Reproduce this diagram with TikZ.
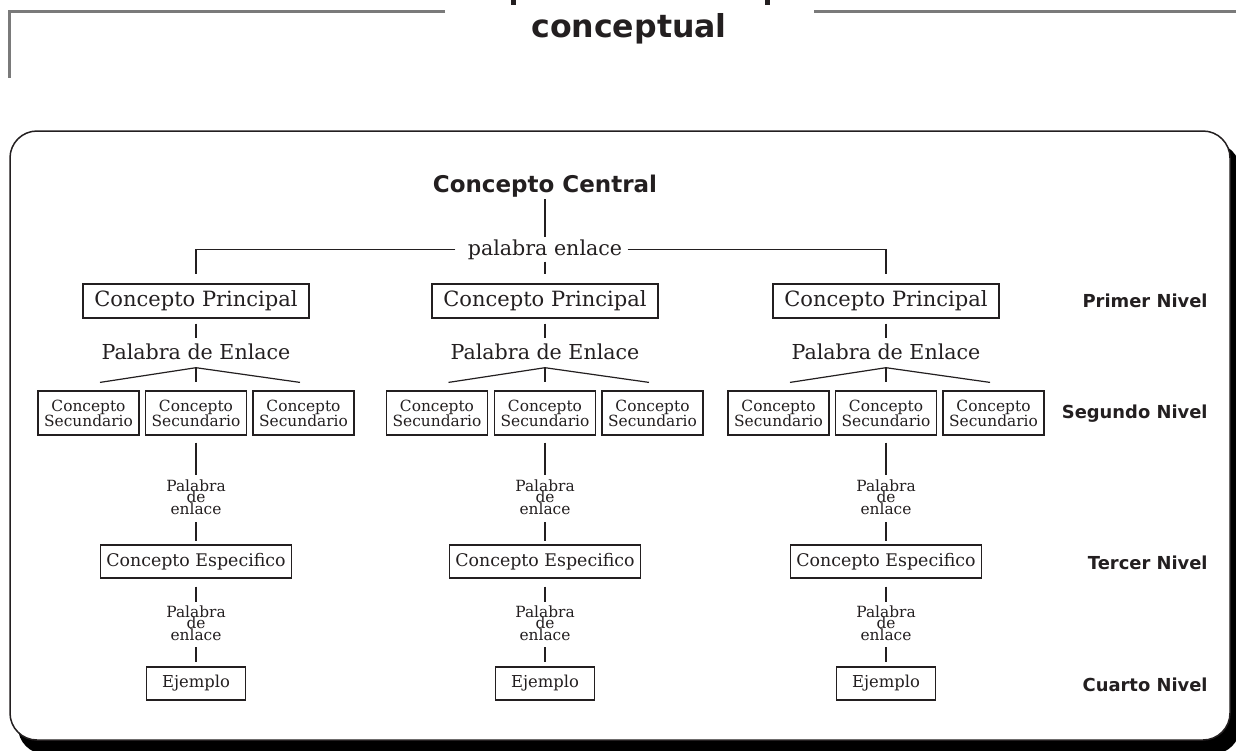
\documentclass[tikz,border=0pt]{standalone}
\usepackage{fontspec}
\setmainfont{DejaVu Serif}
\newfontfamily\nivelfont{DejaVu Sans}
\usepackage{xcolor}
\usetikzlibrary{positioning,calc}
\definecolor{ink}{HTML}{231F20}
\definecolor{framegray}{HTML}{7A7A7A}

\tikzset{
    concept/.style={draw=ink, line width=0.6pt, inner sep=0pt, text=ink,
        font=\fontsize{10.5}{12}\selectfont, minimum width=113pt, minimum height=17pt},
    secbox/.style={concept, align=center, font=\fontsize{7.7}{7.5}\selectfont,
        execute at begin node={\lineskiplimit=-3pt},
        minimum width=50.5pt, minimum height=22pt},
    espbox/.style={concept, font=\fontsize{8.7}{10}\selectfont, minimum width=95.5pt, minimum height=16.5pt},
    ejbox/.style={concept, font=\fontsize{8.2}{10}\selectfont, minimum width=49.5pt, minimum height=16.5pt},
    linkword/.style={inner sep=1pt, text=ink, anchor=base, font=\fontsize{10.3}{12}\selectfont},
    smalllink/.style={inner sep=1pt, text=ink, align=center, anchor=north,
        execute at begin node={\lineskiplimit=-3pt},
        font=\fontsize{7.7}{5.9}\selectfont},
    nivel/.style={inner sep=0pt, text=ink, anchor=base east, font=\nivelfont\bfseries\fontsize{8.95}{10}\selectfont},
    conn/.style={draw=ink, line width=0.6pt},
}

\begin{document}
\begin{tikzpicture}[x=0.5pt, y=-0.5pt]
    \useasboundingbox (0,0) rectangle (1236,750);

    % Title frame (cut at the top)
    \fill[ink] (511,0) rectangle (516,5);
    \fill[ink] (765,0) rectangle (770,5);
    \draw[framegray, line width=1.5pt] (445,11) -- (9,11) -- (9,78);
    \draw[framegray, line width=1.5pt] (814,11) -- (1236,11);
    \node[inner sep=0pt, anchor=base, text=ink, font=\nivelfont\bfseries\fontsize{15.8}{18}\selectfont] (titulo) at (629,37) {conceptual};

    % Panel with shadow
    \fill[black, rounded corners=13.5pt] (18,143) rectangle (1240,754);
    \filldraw[fill=white, draw=ink, line width=0.75pt, rounded corners=13.5pt] (10,131) rectangle (1230,740);

    % Central concept
    \node[inner sep=1pt, anchor=base, text=ink, font=\nivelfont\bfseries\fontsize{11.5}{14}\selectfont] (cc) at (545,192) {Concepto Central};
    \node[linkword, inner xsep=2.5pt] (pe) at (545,255) {palabra enlace};
    \draw[conn] (cc) -- (pe);

    % Primer Nivel
    \node[concept] (cp1) at (196,301) {Concepto Principal};
    \node[concept] (cp2) at (545,301) {Concepto Principal};
    \node[concept] (cp3) at (886,301) {Concepto Principal};
    \draw[conn, shorten <=3.5pt, shorten >=4.5pt] (pe) -| (cp1);
    \draw[conn, shorten >=4.5pt] (pe) -- (cp2);
    \draw[conn, shorten >=4.5pt] (pe) -| (cp3);

    \node[linkword] (pl1) at (196,359) {Palabra de Enlace};
    \node[linkword] (pl2) at (545,359) {Palabra de Enlace};
    \node[linkword] (pl3) at (886,359) {Palabra de Enlace};
    \draw[conn, shorten <=2.5pt, shorten >=1.5pt] (cp1) -- (pl1);
    \draw[conn, shorten <=2.5pt, shorten >=1.5pt] (cp2) -- (pl2);
    \draw[conn, shorten <=2.5pt, shorten >=1.5pt] (cp3) -- (pl3);

    % Segundo Nivel
    \node[secbox] (s11) at (88.5,413) {Concepto\\Secundario};
    \node[secbox] (s12) at (196,413) {Concepto\\Secundario};
    \node[secbox] (s13) at (303.5,413) {Concepto\\Secundario};
    \node[secbox] (s21) at (437,413) {Concepto\\Secundario};
    \node[secbox] (s22) at (545,413) {Concepto\\Secundario};
    \node[secbox] (s23) at (652.5,413) {Concepto\\Secundario};
    \node[secbox] (s31) at (778.5,413) {Concepto\\Secundario};
    \node[secbox] (s32) at (886,413) {Concepto\\Secundario};
    \node[secbox] (s33) at (993.5,413) {Concepto\\Secundario};

    % branches under each Palabra de Enlace
    \coordinate (t1) at ($(pl1.south)+(0,6)$);
    \coordinate (t2) at ($(pl2.south)+(0,6)$);
    \coordinate (t3) at ($(pl3.south)+(0,6)$);
    \draw[conn, shorten >=4pt] (t1) -- (s12);
    \draw[conn, shorten >=4pt] (t2) -- (s22);
    \draw[conn, shorten >=4pt] (t3) -- (s32);
    \draw[conn] ($(s11.north)+(11.5,-8)$) -- (t1) -- ($(s13.north)+(-3.5,-8)$);
    \draw[conn] ($(s21.north)+(11.5,-8)$) -- (t2) -- ($(s23.north)+(-3.5,-8)$);
    \draw[conn] ($(s31.north)+(11.5,-8)$) -- (t3) -- ($(s33.north)+(-3.5,-8)$);

    % Tercer Nivel
    \node[smalllink] (a1) at (196,477) {Palabra\\de\\enlace};
    \node[smalllink] (a2) at (545,477) {Palabra\\de\\enlace};
    \node[smalllink] (a3) at (886,477) {Palabra\\de\\enlace};
    \draw[conn, shorten <=3.5pt, shorten >=1pt] (s12) -- (a1);
    \draw[conn, shorten <=3.5pt, shorten >=1pt] (s22) -- (a2);
    \draw[conn, shorten <=3.5pt, shorten >=1pt] (s32) -- (a3);

    \node[espbox] (ce1) at (196,561.5) {Concepto Especifico};
    \node[espbox] (ce2) at (545,561.5) {Concepto Especifico};
    \node[espbox] (ce3) at (886,561.5) {Concepto Especifico};
    \draw[conn, shorten <=2.5pt, shorten >=1.5pt] (a1) -- (ce1);
    \draw[conn, shorten <=2.5pt, shorten >=1.5pt] (a2) -- (ce2);
    \draw[conn, shorten <=2.5pt, shorten >=1.5pt] (a3) -- (ce3);

    % Cuarto Nivel
    \node[smalllink] (b1) at (196,603) {Palabra\\de\\enlace};
    \node[smalllink] (b2) at (545,603) {Palabra\\de\\enlace};
    \node[smalllink] (b3) at (886,603) {Palabra\\de\\enlace};
    \draw[conn, shorten <=4pt, shorten >=0.5pt] (ce1) -- (b1);
    \draw[conn, shorten <=4pt, shorten >=0.5pt] (ce2) -- (b2);
    \draw[conn, shorten <=4pt, shorten >=0.5pt] (ce3) -- (b3);

    \node[ejbox] (ej1) at (196,683.5) {Ejemplo};
    \node[ejbox] (ej2) at (545,683.5) {Ejemplo};
    \node[ejbox] (ej3) at (886,683.5) {Ejemplo};
    \draw[conn, shorten <=2pt, shorten >=2pt] (b1) -- (ej1);
    \draw[conn, shorten <=2pt, shorten >=2pt] (b2) -- (ej2);
    \draw[conn, shorten <=2pt, shorten >=2pt] (b3) -- (ej3);

    % Level labels
    \node[nivel] (n1) at (1208,307) {Primer Nivel};
    \node[nivel] (n2) at (1208,418) {Segundo Nivel};
    \node[nivel] (n3) at (1208,569) {Tercer Nivel};
    \node[nivel] (n4) at (1208,691) {Cuarto Nivel};
\end{tikzpicture}
\end{document}
